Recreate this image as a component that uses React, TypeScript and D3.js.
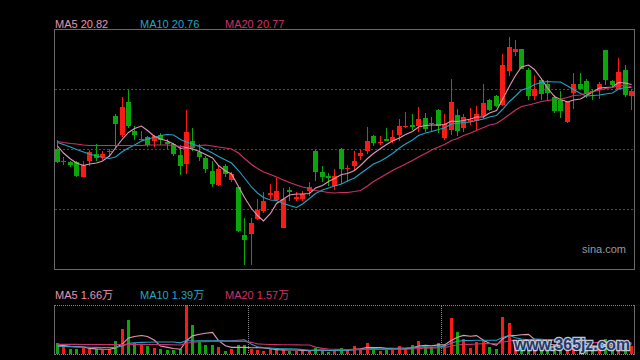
import React from 'react';
import * as d3 from 'd3';

// daily K-line, 90 sessions (prices in yuan)
const open = [19.54,19.26,19.26,19.26,18.99,19.29,19.42,19.37,19.47,20.19,
  19.82,20.46,19.89,19.72,19.76,19.68,19.81,19.66,19.62,19.41,
  19.23,19.68,19.46,19.34,19.09,18.81,19.18,18.89,18.76,17.81,
  17.84,18.13,18.28,18.61,18.52,17.96,18.71,18.53,18.52,18.68,
  19.49,19.08,18.98,18.79,19.54,19.14,19.18,19.38,19.48,19.79,
  19.64,19.73,19.68,19.81,19.97,20.01,19.98,20.15,20.06,20.31,
  19.73,19.91,20.21,19.94,20.08,20.09,20.17,20.51,20.59,20.41,
  21.09,21.48,21.53,21.11,20.60,20.91,20.82,20.58,20.51,20.06,
  20.64,20.84,20.90,20.70,20.71,21.50,20.90,20.74,21.10,20.60];
const close = [19.28,19.28,19.21,18.99,19.22,19.46,19.34,19.42,19.48,20.04,
  20.38,19.99,19.81,19.74,19.61,19.78,19.71,19.62,19.43,19.18,
  19.88,19.54,19.36,19.13,18.83,19.13,19.02,19.02,17.89,17.71,
  18.06,18.31,18.48,18.64,18.70,18.54,18.68,18.58,18.63,18.76,
  19.08,18.98,18.94,18.98,19.14,19.15,19.29,19.44,19.68,19.64,
  19.66,19.70,19.76,19.99,19.99,19.98,20.13,19.93,20.04,19.99,
  20.02,20.46,19.89,20.16,20.11,20.23,20.44,20.31,20.39,21.21,
  21.58,21.53,21.14,20.59,20.74,20.63,20.64,20.29,20.30,20.48,
  20.83,20.74,20.63,20.68,20.84,20.90,20.81,21.08,20.61,20.70];
const high = [19.72,19.38,19.28,19.29,19.28,19.51,19.62,19.48,19.54,20.23,
  20.58,20.72,19.98,19.89,19.79,19.81,19.85,19.74,19.65,19.61,
  20.31,19.94,19.62,19.40,19.28,19.19,19.24,19.07,18.77,18.14,
  18.14,18.54,18.68,18.82,18.95,18.75,18.76,18.67,18.70,18.87,
  19.50,19.19,19.04,19.12,19.56,19.22,19.48,19.50,19.97,19.80,
  19.79,19.94,19.91,20.12,20.27,20.24,20.38,20.25,20.16,20.32,
  20.24,20.92,20.32,20.24,20.34,20.39,20.84,20.52,20.60,21.42,
  21.77,21.72,21.54,21.15,21.01,20.95,20.91,20.61,20.69,20.49,
  21.06,21.06,20.93,20.74,20.88,21.51,20.91,21.36,21.21,20.74];
const low = [19.25,19.21,19.16,18.97,18.97,19.19,19.28,19.31,19.38,19.55,
  19.76,19.95,19.71,19.68,19.57,19.58,19.61,19.54,19.40,19.01,
  19.02,19.49,19.28,19.06,18.76,18.79,18.96,18.87,17.88,17.21,
  17.21,18.11,18.25,18.54,18.51,17.95,18.48,18.49,18.49,18.59,
  18.89,18.88,18.79,18.72,18.83,18.88,19.11,19.30,19.42,19.59,
  19.61,19.69,19.64,19.70,19.94,19.91,19.88,19.87,19.89,19.86,
  19.71,19.81,19.78,19.88,20.01,19.91,20.12,20.29,20.37,20.39,
  20.98,21.40,21.13,20.51,20.50,20.51,20.51,20.25,20.14,20.05,
  20.32,20.71,20.55,20.51,20.54,20.81,20.77,20.73,20.57,20.31];

// moving averages as drawn
const ma5 = [19.59,19.45,19.33,19.25,19.20,19.23,19.25,19.29,19.39,19.55,
  19.73,19.86,19.94,19.99,19.90,19.78,19.73,19.69,19.63,19.54,
  19.56,19.53,19.48,19.42,19.35,19.20,19.09,19.03,18.78,18.56,
  18.34,18.20,18.09,18.24,18.44,18.53,18.61,18.63,18.63,18.64,
  18.75,18.80,18.88,18.94,19.02,19.04,19.10,19.20,19.34,19.44,
  19.54,19.62,19.69,19.75,19.82,19.88,19.97,20.00,20.01,20.01,
  20.02,20.09,20.08,20.10,20.13,20.17,20.17,20.25,20.30,20.52,
  20.79,21.00,21.17,21.21,21.12,20.93,20.75,20.58,20.52,20.47,
  20.51,20.53,20.60,20.67,20.75,20.76,20.77,20.86,20.85,20.82];
const ma10 = [19.66,19.62,19.57,19.52,19.47,19.43,19.39,19.36,19.34,19.37,
  19.48,19.55,19.61,19.69,19.73,19.76,19.80,19.82,19.81,19.72,
  19.67,19.63,19.58,19.52,19.45,19.38,19.31,19.25,19.10,18.95,
  18.77,18.65,18.56,18.51,18.50,18.44,18.40,18.36,18.43,18.54,
  18.64,18.71,18.75,18.79,18.83,18.89,18.95,19.04,19.14,19.23,
  19.29,19.36,19.44,19.55,19.63,19.71,19.80,19.85,19.88,19.92,
  19.95,20.03,20.04,20.06,20.07,20.10,20.13,20.17,20.20,20.32,
  20.48,20.59,20.71,20.75,20.82,20.86,20.88,20.87,20.87,20.79,
  20.72,20.64,20.59,20.60,20.61,20.63,20.65,20.73,20.76,20.76];
const ma20 = [19.68,19.66,19.64,19.63,19.61,19.60,19.60,19.60,19.60,19.60,
  19.60,19.60,19.60,19.60,19.61,19.61,19.61,19.61,19.60,19.58,
  19.58,19.59,19.60,19.61,19.59,19.57,19.55,19.53,19.45,19.34,
  19.22,19.14,19.07,19.02,18.97,18.91,18.86,18.81,18.77,18.74,
  18.70,18.68,18.66,18.65,18.66,18.66,18.68,18.70,18.79,18.88,
  18.96,19.03,19.10,19.17,19.23,19.30,19.37,19.44,19.51,19.57,
  19.62,19.70,19.74,19.80,19.85,19.90,19.96,20.01,20.04,20.12,
  20.22,20.31,20.38,20.41,20.44,20.48,20.50,20.52,20.53,20.56,
  20.60,20.61,20.65,20.67,20.71,20.74,20.76,20.80,20.81,20.77];

// volume, 万 shares
const vol = [1.70,1.10,0.75,0.75,0.95,0.70,0.70,0.56,0.70,1.95,
  3.75,5.10,1.60,1.46,1.20,0.95,0.75,0.60,0.60,0.70,
  7.35,4.35,1.85,1.35,1.35,1.10,0.50,0.70,1.35,1.35,
  0.75,0.60,0.50,0.70,0.70,0.60,0.50,0.50,0.40,0.45,
  0.95,0.50,0.35,0.50,0.85,0.60,1.20,0.70,1.70,0.70,
  0.50,0.60,0.70,1.20,0.85,1.35,1.95,1.10,0.85,1.60,
  1.35,5.45,3.35,2.20,0.95,1.85,2.00,1.10,0.75,5.60,
  4.60,1.85,1.60,1.10,1.85,1.60,1.10,1.30,1.00,1.50,
  1.30,0.90,1.20,0.80,1.40,2.20,1.20,2.10,1.60,1.20];
const vma5 = [1.35,1.25,1.15,1.10,1.05,0.85,0.77,0.73,0.72,0.92,
  1.53,2.41,2.62,2.77,2.62,2.06,1.19,0.99,0.82,0.72,
  2.00,2.72,2.97,3.12,3.25,2.00,1.23,1.00,1.00,1.00,
  0.93,0.95,0.91,0.78,0.65,0.62,0.60,0.60,0.54,0.49,
  0.56,0.56,0.53,0.55,0.63,0.56,0.70,0.77,1.01,0.98,
  0.96,0.84,0.84,0.74,0.77,0.94,1.21,1.29,1.22,1.37,
  1.37,2.07,2.52,2.79,2.66,2.76,2.07,1.62,1.33,2.26,
  2.81,2.78,2.88,2.95,2.20,1.60,1.45,1.39,1.37,1.30,
  1.24,1.20,1.18,1.14,1.12,1.30,1.36,1.54,1.70,1.66];
const vma10 = [1.15,1.12,1.10,1.07,1.05,1.02,1.00,0.98,0.97,0.99,
  1.19,1.59,1.68,1.75,1.77,1.80,1.80,1.81,1.80,1.67,
  2.03,1.96,1.98,1.97,1.99,2.00,1.98,1.99,2.06,2.13,
  1.47,1.09,0.96,0.89,0.83,0.78,0.78,0.76,0.66,0.57,
  0.59,0.58,0.57,0.55,0.56,0.56,0.63,0.65,0.78,0.81,
  0.76,0.77,0.81,0.88,0.88,0.95,1.03,1.07,0.98,1.07,
  1.16,1.64,1.91,2.01,2.02,2.07,2.07,2.07,2.06,2.46,
  2.79,2.43,2.25,2.14,2.23,2.21,2.12,2.14,2.16,1.75,
  1.42,1.33,1.29,1.26,1.21,1.27,1.28,1.35,1.41,1.39];
const vma20 = [1.45,1.45,1.44,1.44,1.43,1.43,1.42,1.42,1.41,1.41,
  1.42,1.45,1.45,1.44,1.43,1.42,1.41,1.40,1.38,1.36,
  1.61,1.77,1.83,1.86,1.88,1.90,1.89,1.90,1.93,1.90,
  1.75,1.52,1.47,1.43,1.41,1.39,1.38,1.37,1.36,1.35,
  1.03,0.84,0.76,0.72,0.69,0.67,0.70,0.70,0.72,0.69,
  0.68,0.68,0.69,0.71,0.72,0.76,0.83,0.86,0.88,0.94,
  0.96,1.21,1.36,1.44,1.45,1.51,1.55,1.57,1.52,1.77,
  1.97,2.03,2.08,2.07,2.12,2.14,2.09,2.10,2.11,2.11,
  2.10,1.88,1.77,1.70,1.72,1.74,1.70,1.75,1.79,1.57];

const monthStarts = [30, 60];
const priceDomain = [17.13, 21.93];
const maNames = ['MA5', 'MA10', 'MA20'];
const maColors = ['#e596b4', '#20a4c4', '#d0306a'];

const RED = '#fa1c14';
const GREEN = '#0aa60a';
const FONT = '"Liberation Sans", Arial, "Noto Sans CJK SC", sans-serif';

const main = { left: 55, right: 634, top: 29, bottom: 269 };
const volPanel = { top: 305, bottom: 354 };

export default function App() {
  const idx = d3.range(close.length);
  const x = d3.scaleBand<number>().domain(idx).range([main.left, main.right])
    .paddingInner(0.25).paddingOuter(0);
  const bw = Math.round(x.bandwidth());
  const bx = (i: number) => Math.round(x(i) as number);
  const mid = (i: number) => bx(i) + bw / 2;

  const y = d3.scaleLinear().domain(priceDomain).range([main.bottom, main.top]);
  const vy = d3.scaleLinear().domain([0, d3.max(vol) as number]).range([volPanel.bottom, volPanel.top]);

  const up = (i: number) => close[i] >= open[i];

  const priceLine = (arr: number[]) =>
    d3.line<number>().x(i => mid(i)).y(i => y(arr[i]))(idx) || '';
  const volLine = (arr: number[]) =>
    d3.line<number>().x(i => mid(i)).y(i => vy(arr[i]))(idx) || '';

  const priceMAs = [ma5, ma10, ma20];
  const volMAs = [vma5, vma10, vma20];

  const gridY = d3.range(1, 4).map(k => priceDomain[0] + (k * (priceDomain[1] - priceDomain[0])) / 4);
  const step = x.step();
  const breakX = monthStarts.map(i => Math.round((x(i) as number) - (step - x.bandwidth()) / 2) + 0.5);

  return (
    <svg width={640} height={360} style={{ position: 'fixed', left: 0, top: 0, display: 'block', background: '#000' }}>
      <rect x={0} y={0} width={640} height={360} fill="#000" />

      {/* legends */}
      {maNames.map((n, k) => (
        <text key={'l' + n} x={55 + k * 85} y={28} fill={maColors[k]} fontSize={11} fontFamily={FONT}>
          {`${n} ${priceMAs[k][priceMAs[k].length - 1].toFixed(2)}`}
        </text>
      ))}
      {maNames.map((n, k) => (
        <text key={'v' + n} x={55 + k * 85} y={299} fill={maColors[k]} fontSize={11} fontFamily={FONT}>
          {`${n} ${volMAs[k][volMAs[k].length - 1].toFixed(2)}万`}
        </text>
      ))}

      {/* price panel */}
      {gridY.map(v => (
        <line key={v} x1={55} x2={634} y1={Math.round(y(v)) + 0.5} y2={Math.round(y(v)) + 0.5}
          stroke="#4a4a4a" strokeDasharray="2,2" />
      ))}
      <text x={582} y={253} fill="#9a9a9a" fontSize={11} fontFamily={FONT}>sina.com</text>

      <g shapeRendering="crispEdges">
        {idx.map(i => {
          const c = up(i) ? RED : GREEN;
          const top = Math.round(Math.min(y(open[i]), y(close[i])));
          const h = Math.max(1, Math.round(Math.abs(y(open[i]) - y(close[i]))));
          return (
            <g key={i}>
              <line x1={mid(i)} x2={mid(i)} y1={Math.round(y(high[i]))} y2={Math.round(y(low[i]))} stroke={c} />
              <rect x={bx(i)} y={top} width={bw} height={h} fill={c} />
            </g>
          );
        })}
      </g>

      <g fill="none" strokeWidth={1.1}>
        {priceMAs.map((arr, k) => (
          <path key={k} d={priceLine(arr)} stroke={maColors[k]} />
        ))}
      </g>

      <rect x={54.5} y={29.5} width={580} height={240} fill="none" stroke="#6a6a6a" />

      {/* volume panel */}
      <g shapeRendering="crispEdges">
        {idx.map(i => (
          <rect key={i} x={bx(i) + 1} y={Math.round(vy(vol[i]))} width={bw - 2}
            height={Math.round(vy(0) - vy(vol[i]))} fill={up(i) ? RED : GREEN} />
        ))}
      </g>
      <g fill="none" strokeWidth={1.1}>
        {volMAs.map((arr, k) => (
          <path key={k} d={volLine(arr)} stroke={maColors[k]} />
        ))}
      </g>
      <g shapeRendering="crispEdges">
        <line x1={54.5} x2={634.5} y1={305.5} y2={305.5} stroke="#888" strokeDasharray="1,1" />
        <line x1={54.5} x2={634.5} y1={354.5} y2={354.5} stroke="#888" strokeDasharray="1,1" />
        <line x1={54.5} x2={54.5} y1={305} y2={355} stroke="#6a6a6a" />
        <line x1={634.5} x2={634.5} y1={305} y2={355} stroke="#6a6a6a" />
        {breakX.map(bxv => (
          <line key={bxv} x1={bxv} x2={bxv} y1={306} y2={354} stroke="#888" strokeDasharray="1,1" />
        ))}
      </g>

      {/* site watermark */}
      <text x={514} y={350} fontSize={16} fontWeight="bold" fontFamily={FONT} fill="#1d3a70"
        stroke="#cfd6e6" strokeWidth={2.4} paintOrder="stroke" textLength={116}
        lengthAdjust="spacingAndGlyphs" opacity={0.92}>
        www.365jz.com
      </text>
    </svg>
  );
}
